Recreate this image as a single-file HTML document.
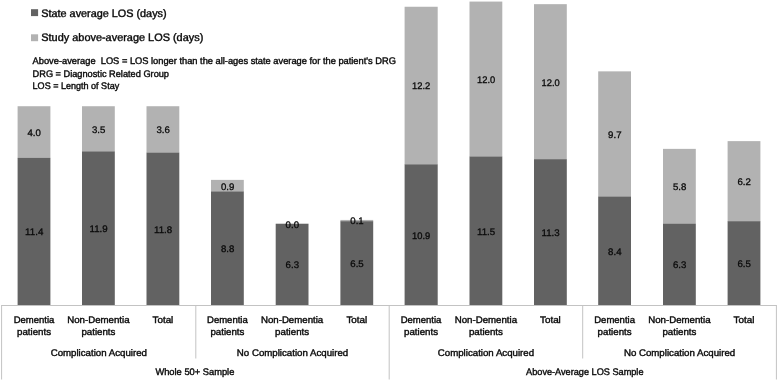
<!DOCTYPE html><html><head><meta charset="utf-8"><title>LOS chart</title><style>html,body{margin:0;padding:0;background:#fff}svg{display:block;will-change:transform}text{font-family:"Liberation Sans",sans-serif;fill:#0a0a0a;stroke:#0a0a0a;stroke-width:.4px;text-rendering:geometricPrecision}text.v{stroke-width:.3px}</style></head><body>
<svg width="778" height="381" viewBox="0 0 778 381">
<rect width="778" height="381" fill="#fff" stroke="none"/>
<rect x="17.60" y="106.23" width="32.80" height="51.98" fill="#b2b2b2"/>
<rect x="17.60" y="157.91" width="32.80" height="147.29" fill="#626262"/>
<text class="v" x="34.20" y="235.46" font-size="9.5" text-anchor="middle" textLength="18.2" lengthAdjust="spacingAndGlyphs">11.4</text>
<text class="v" x="34.20" y="135.97" font-size="9.5" text-anchor="middle" textLength="13.4" lengthAdjust="spacingAndGlyphs">4.0</text>
<rect x="82.00" y="106.23" width="32.80" height="45.52" fill="#b2b2b2"/>
<rect x="82.00" y="151.45" width="32.80" height="153.75" fill="#626262"/>
<text class="v" x="98.60" y="232.23" font-size="9.5" text-anchor="middle" textLength="18.2" lengthAdjust="spacingAndGlyphs">11.9</text>
<text class="v" x="98.60" y="132.74" font-size="9.5" text-anchor="middle" textLength="13.4" lengthAdjust="spacingAndGlyphs">3.5</text>
<rect x="146.50" y="106.23" width="32.80" height="46.81" fill="#b2b2b2"/>
<rect x="146.50" y="152.74" width="32.80" height="152.46" fill="#626262"/>
<text class="v" x="163.10" y="232.87" font-size="9.5" text-anchor="middle" textLength="18.2" lengthAdjust="spacingAndGlyphs">11.8</text>
<text class="v" x="163.10" y="133.39" font-size="9.5" text-anchor="middle" textLength="13.4" lengthAdjust="spacingAndGlyphs">3.6</text>
<rect x="211.00" y="179.88" width="32.80" height="11.93" fill="#b2b2b2"/>
<rect x="211.00" y="191.50" width="32.80" height="113.70" fill="#626262"/>
<text class="v" x="227.60" y="252.25" font-size="9.5" text-anchor="middle" textLength="13.4" lengthAdjust="spacingAndGlyphs">8.8</text>
<text class="v" x="227.60" y="189.59" font-size="9.5" text-anchor="middle" textLength="13.4" lengthAdjust="spacingAndGlyphs">0.9</text>
<rect x="275.70" y="223.80" width="32.80" height="0.30" fill="#b2b2b2"/>
<rect x="275.70" y="223.80" width="32.80" height="81.40" fill="#626262"/>
<text class="v" x="292.30" y="268.40" font-size="9.5" text-anchor="middle" textLength="13.4" lengthAdjust="spacingAndGlyphs">6.3</text>
<text class="v" x="292.30" y="227.70" font-size="9.5" text-anchor="middle" textLength="13.4" lengthAdjust="spacingAndGlyphs">0.0</text>
<rect x="340.40" y="219.93" width="32.80" height="1.59" fill="#b2b2b2"/>
<rect x="340.40" y="221.22" width="32.80" height="83.98" fill="#626262"/>
<text class="v" x="357.00" y="267.11" font-size="9.5" text-anchor="middle" textLength="13.4" lengthAdjust="spacingAndGlyphs">6.5</text>
<text class="v" x="357.00" y="224.47" font-size="9.5" text-anchor="middle" textLength="13.4" lengthAdjust="spacingAndGlyphs">0.1</text>
<rect x="404.60" y="6.75" width="33.10" height="157.92" fill="#b2b2b2"/>
<rect x="404.60" y="164.37" width="33.10" height="140.83" fill="#626262"/>
<text class="v" x="421.20" y="238.69" font-size="9.5" text-anchor="middle" textLength="18.2" lengthAdjust="spacingAndGlyphs">10.9</text>
<text class="v" x="421.20" y="89.46" font-size="9.5" text-anchor="middle" textLength="18.2" lengthAdjust="spacingAndGlyphs">12.2</text>
<rect x="469.50" y="1.58" width="32.80" height="155.34" fill="#b2b2b2"/>
<rect x="469.50" y="156.62" width="32.80" height="148.58" fill="#626262"/>
<text class="v" x="486.10" y="234.81" font-size="9.5" text-anchor="middle" textLength="18.2" lengthAdjust="spacingAndGlyphs">11.5</text>
<text class="v" x="486.10" y="83.00" font-size="9.5" text-anchor="middle" textLength="18.2" lengthAdjust="spacingAndGlyphs">12.0</text>
<rect x="534.00" y="4.16" width="32.80" height="155.34" fill="#b2b2b2"/>
<rect x="534.00" y="159.20" width="32.80" height="146.00" fill="#626262"/>
<text class="v" x="550.60" y="236.10" font-size="9.5" text-anchor="middle" textLength="18.2" lengthAdjust="spacingAndGlyphs">11.3</text>
<text class="v" x="550.60" y="85.58" font-size="9.5" text-anchor="middle" textLength="18.2" lengthAdjust="spacingAndGlyphs">12.0</text>
<rect x="598.20" y="71.35" width="32.80" height="125.62" fill="#b2b2b2"/>
<rect x="598.20" y="196.67" width="32.80" height="108.53" fill="#626262"/>
<text class="v" x="614.80" y="254.84" font-size="9.5" text-anchor="middle" textLength="13.4" lengthAdjust="spacingAndGlyphs">8.4</text>
<text class="v" x="614.80" y="137.91" font-size="9.5" text-anchor="middle" textLength="13.4" lengthAdjust="spacingAndGlyphs">9.7</text>
<rect x="663.00" y="148.87" width="32.80" height="75.24" fill="#b2b2b2"/>
<rect x="663.00" y="223.80" width="32.80" height="81.40" fill="#626262"/>
<text class="v" x="679.60" y="268.40" font-size="9.5" text-anchor="middle" textLength="13.4" lengthAdjust="spacingAndGlyphs">6.3</text>
<text class="v" x="679.60" y="190.24" font-size="9.5" text-anchor="middle" textLength="13.4" lengthAdjust="spacingAndGlyphs">5.8</text>
<rect x="727.60" y="141.12" width="32.80" height="80.40" fill="#b2b2b2"/>
<rect x="727.60" y="221.22" width="32.80" height="83.98" fill="#626262"/>
<text class="v" x="744.20" y="267.11" font-size="9.5" text-anchor="middle" textLength="13.4" lengthAdjust="spacingAndGlyphs">6.5</text>
<text class="v" x="744.20" y="185.07" font-size="9.5" text-anchor="middle" textLength="13.4" lengthAdjust="spacingAndGlyphs">6.2</text>
<g stroke="#c3c3c3" stroke-width="1" fill="none">
<path d="M1.1 305.5H776.9"/>
<path d="M1.6 305.5V379.5"/>
<path d="M195.8 305.5V358.5"/>
<path d="M389.2 305.5V379.5"/>
<path d="M582.7 305.5V358.5"/>
<path d="M776.4 305.5V379.5"/>
</g>
<text x="34.00" y="322.60" font-size="9.5" text-anchor="middle" textLength="40.7" lengthAdjust="spacingAndGlyphs">Dementia</text>
<text x="34.00" y="334.70" font-size="9.5" text-anchor="middle" textLength="34.0" lengthAdjust="spacingAndGlyphs">patients</text>
<text x="98.40" y="322.60" font-size="9.5" text-anchor="middle" textLength="62.3" lengthAdjust="spacingAndGlyphs">Non-Dementia</text>
<text x="98.40" y="334.70" font-size="9.5" text-anchor="middle" textLength="34.0" lengthAdjust="spacingAndGlyphs">patients</text>
<text x="162.90" y="322.60" font-size="9.5" text-anchor="middle" textLength="20.8" lengthAdjust="spacingAndGlyphs">Total</text>
<text x="227.40" y="322.60" font-size="9.5" text-anchor="middle" textLength="40.7" lengthAdjust="spacingAndGlyphs">Dementia</text>
<text x="227.40" y="334.70" font-size="9.5" text-anchor="middle" textLength="34.0" lengthAdjust="spacingAndGlyphs">patients</text>
<text x="292.10" y="322.60" font-size="9.5" text-anchor="middle" textLength="62.3" lengthAdjust="spacingAndGlyphs">Non-Dementia</text>
<text x="292.10" y="334.70" font-size="9.5" text-anchor="middle" textLength="34.0" lengthAdjust="spacingAndGlyphs">patients</text>
<text x="356.80" y="322.60" font-size="9.5" text-anchor="middle" textLength="20.8" lengthAdjust="spacingAndGlyphs">Total</text>
<text x="421.00" y="322.60" font-size="9.5" text-anchor="middle" textLength="40.7" lengthAdjust="spacingAndGlyphs">Dementia</text>
<text x="421.00" y="334.70" font-size="9.5" text-anchor="middle" textLength="34.0" lengthAdjust="spacingAndGlyphs">patients</text>
<text x="485.90" y="322.60" font-size="9.5" text-anchor="middle" textLength="62.3" lengthAdjust="spacingAndGlyphs">Non-Dementia</text>
<text x="485.90" y="334.70" font-size="9.5" text-anchor="middle" textLength="34.0" lengthAdjust="spacingAndGlyphs">patients</text>
<text x="550.40" y="322.60" font-size="9.5" text-anchor="middle" textLength="20.8" lengthAdjust="spacingAndGlyphs">Total</text>
<text x="614.60" y="322.60" font-size="9.5" text-anchor="middle" textLength="40.7" lengthAdjust="spacingAndGlyphs">Dementia</text>
<text x="614.60" y="334.70" font-size="9.5" text-anchor="middle" textLength="34.0" lengthAdjust="spacingAndGlyphs">patients</text>
<text x="679.40" y="322.60" font-size="9.5" text-anchor="middle" textLength="62.3" lengthAdjust="spacingAndGlyphs">Non-Dementia</text>
<text x="679.40" y="334.70" font-size="9.5" text-anchor="middle" textLength="34.0" lengthAdjust="spacingAndGlyphs">patients</text>
<text x="744.00" y="322.60" font-size="9.5" text-anchor="middle" textLength="20.8" lengthAdjust="spacingAndGlyphs">Total</text>
<text x="98.80" y="355.50" font-size="9.5" text-anchor="middle" textLength="96.3" lengthAdjust="spacingAndGlyphs">Complication Acquired</text>
<text x="292.50" y="355.50" font-size="9.5" text-anchor="middle" textLength="111.3" lengthAdjust="spacingAndGlyphs">No Complication Acquired</text>
<text x="485.95" y="355.50" font-size="9.5" text-anchor="middle" textLength="96.3" lengthAdjust="spacingAndGlyphs">Complication Acquired</text>
<text x="679.55" y="355.50" font-size="9.5" text-anchor="middle" textLength="111.3" lengthAdjust="spacingAndGlyphs">No Complication Acquired</text>
<text x="194.90" y="375.40" font-size="9.5" text-anchor="middle" textLength="79.0" lengthAdjust="spacingAndGlyphs">Whole 50+ Sample</text>
<text x="584.80" y="375.40" font-size="9.5" text-anchor="middle" textLength="117.4" lengthAdjust="spacingAndGlyphs">Above-Average LOS Sample</text>
<rect x="31" y="9.2" width="7.1" height="6.9" fill="#626262"/>
<rect x="31" y="34.3" width="7.1" height="6.9" fill="#b2b2b2"/>
<text x="41.30" y="16.50" font-size="10.9" textLength="125.3" lengthAdjust="spacingAndGlyphs">State average LOS (days)</text>
<text x="41.30" y="41.30" font-size="10.9" textLength="162.0" lengthAdjust="spacingAndGlyphs">Study above-average LOS (days)</text>
<text x="32.60" y="63.90" font-size="9.5" textLength="363.3" lengthAdjust="spacingAndGlyphs" xml:space="preserve">Above-average  LOS = LOS longer than the all-ages state average for the patient's DRG</text>
<text x="32.60" y="76.50" font-size="9.5" textLength="136.4" lengthAdjust="spacingAndGlyphs">DRG = Diagnostic Related Group</text>
<text x="32.60" y="89.00" font-size="9.5" textLength="86.6" lengthAdjust="spacingAndGlyphs">LOS = Length of Stay</text>
</svg></body></html>
